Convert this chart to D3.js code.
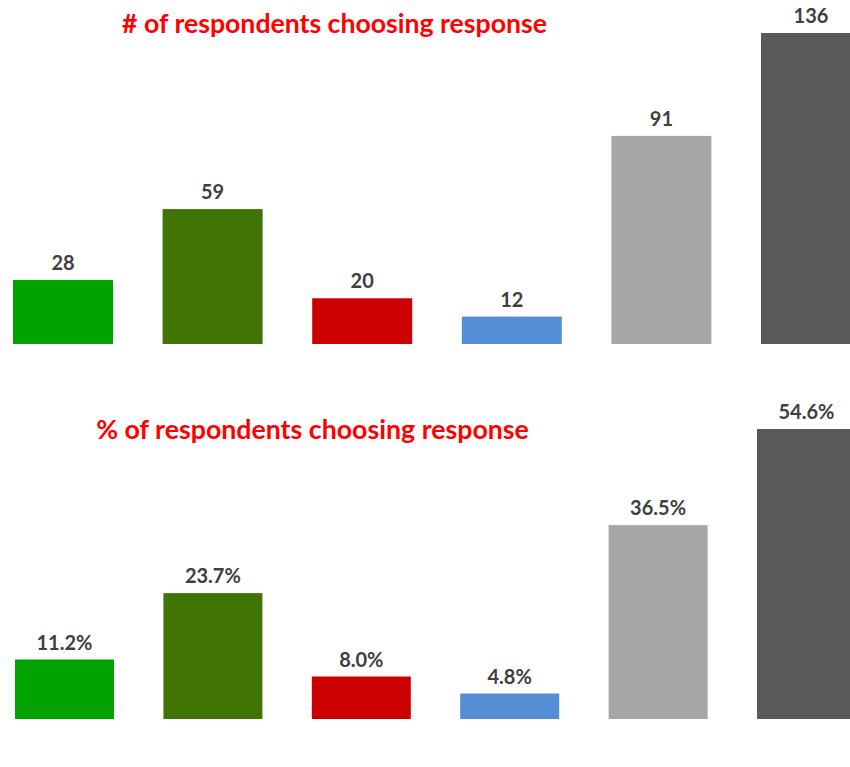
<!DOCTYPE html>
<html>
<head>
<meta charset="utf-8">
<script src="https://cdn.jsdelivr.net/npm/d3@7"></script>
<style>
  html, body { margin: 0; padding: 0; background: #fff; }
  svg { display: block; }
  text { font-family: Lato, "Open Sans", sans-serif; font-weight: 700; }
</style>
</head>
<body>
<svg id="chart" width="850" height="767"></svg>
<script>
// Survey responses: counts and shares per response option
const responses = ["A", "B", "C", "D", "E", "F"];
const counts = [28, 59, 20, 12, 91, 136];
const shares = [11.2, 23.7, 8.0, 4.8, 36.5, 54.6];
const colors = ["#00A300", "#407505", "#CC0000", "#558ED5", "#A6A6A6", "#595959"];
const titles = ["# of respondents choosing response", "% of respondents choosing response"];

const svg = d3.select("#chart");

function panel(cfg) {
  const g = svg.append("g");
  const x = d3.scaleBand().domain(responses).range(cfg.xRange)
    .paddingInner(cfg.padInner).paddingOuter(0);
  const y = d3.scaleLinear().domain([0, cfg.max]).range([cfg.base, cfg.top]);

  g.selectAll("rect").data(cfg.values).join("rect")
    .attr("x", (d, i) => x(responses[i]))
    .attr("y", d => y(d))
    .attr("width", x.bandwidth())
    .attr("height", d => y(0) - y(d))
    .attr("fill", (d, i) => colors[i]);

  g.selectAll("text.val").data(cfg.values).join("text")
    .attr("class", "val")
    .attr("x", (d, i) => x(responses[i]) + x.bandwidth() / 2)
    .attr("y", d => y(d) - 10)
    .attr("text-anchor", "middle")
    .attr("fill", "#404040")
    .attr("font-size", 20)
    .text(cfg.fmt);

  const t = g.append("text")
    .attr("x", cfg.titleX)
    .attr("y", cfg.titleY)
    .attr("text-anchor", "middle")
    .attr("fill", "#FF0000")
    .attr("font-size", 24)
    .text(cfg.title);
  // fit the title to its intended width
  const w = t.node().getComputedTextLength();
  t.attr("font-size", 24 * cfg.titleW / w);
}

panel({
  values: counts, max: 136, base: 344, top: 33,
  xRange: [13, 13 + 5 * 149.6 + 100], padInner: 49.6 / 149.6,
  fmt: d => d3.format("d")(d),
  title: titles[0], titleX: 334.5, titleY: 33, titleW: 425
});

panel({
  values: shares, max: 54.6, base: 719, top: 429,
  xRange: [15, 15 + 5 * 148.4 + 99], padInner: 49.4 / 148.4,
  fmt: d => d3.format(".1f")(d) + "%",
  title: titles[1], titleX: 312.5, titleY: 439, titleW: 433
});
</script>
</body>
</html>
